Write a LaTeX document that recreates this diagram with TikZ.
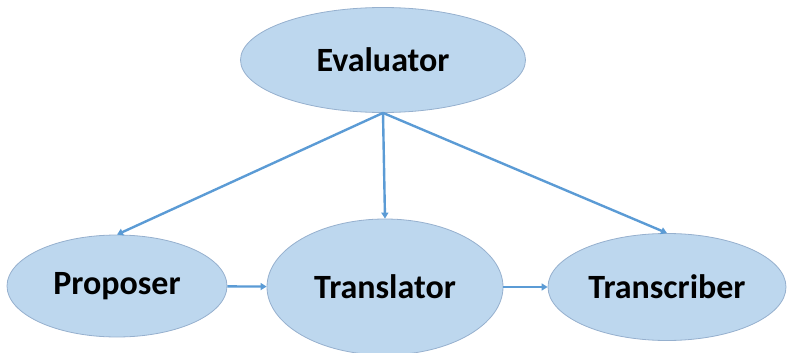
\documentclass[tikz,border=0pt]{standalone}
\usepackage{fontspec}
\setmainfont{Carlito}
\usetikzlibrary{shapes.geometric,arrows.meta}

\definecolor{agentfill}{RGB}{189,215,238}
\definecolor{agentline}{RGB}{150,176,206}
\definecolor{flowblue}{RGB}{91,155,213}

\tikzstyle{agent} = [ellipse, inner sep=0pt, draw=agentline, line width=0.8pt, fill=agentfill, font=\fontsize{34}{38}\selectfont\bfseries, text=black]
\tikzstyle{arrow} = [draw=flowblue, line width=2.4pt, -{Triangle[width=7pt,length=6pt]}]

\begin{document}
\begin{tikzpicture}[x=1pt,y=-1pt]
        \useasboundingbox (0,0) rectangle (790,353);
        \node (evaluator) [agent, minimum width=285pt, minimum height=105pt] at (383,60) {Evaluator};
        \node (proposer) [agent, minimum width=220pt, minimum height=102pt] at (117,286) {Proposer};
        \node (translator) [agent, minimum width=236pt, minimum height=136pt] at (385,287) {Translator};
        \node (transcriber) [agent, minimum width=238pt, minimum height=107pt] at (667,287) {Transcriber};

        \draw [arrow] (evaluator.south) -- (proposer.north);
        \draw [arrow] (evaluator.south) -- (translator.north);
        \draw [arrow] (evaluator.south) -- (transcriber.north);
        \draw [arrow] (proposer) -- (translator);
        \draw [arrow] (translator) -- (transcriber);
    \end{tikzpicture}
\end{document}
